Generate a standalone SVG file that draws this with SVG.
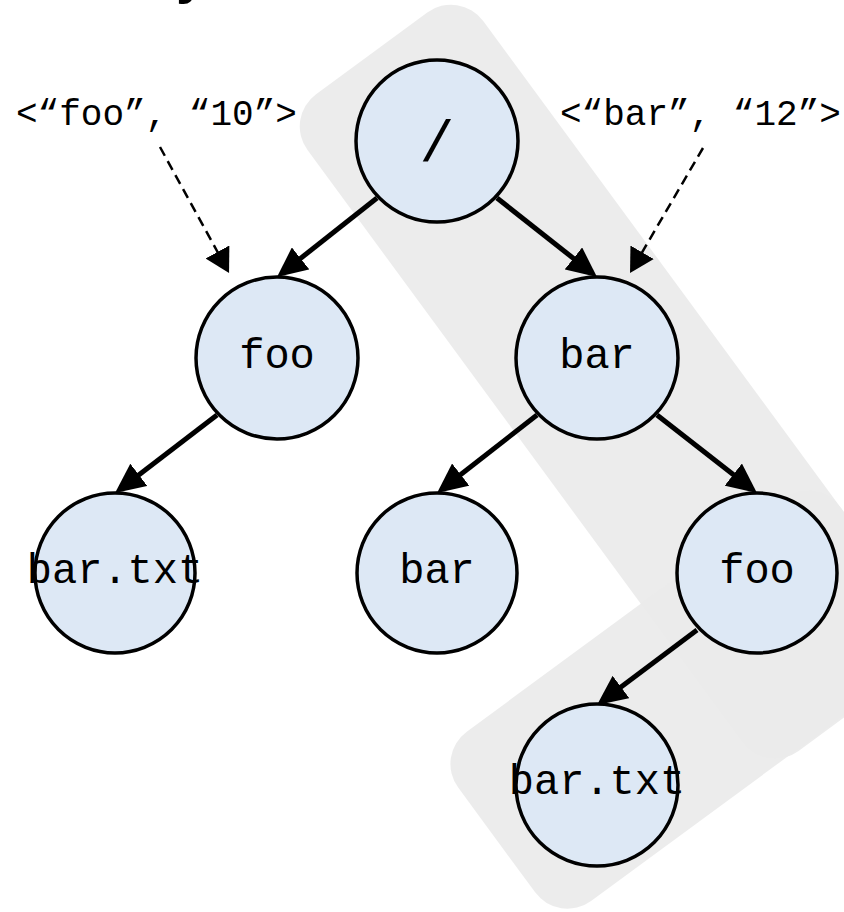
<svg xmlns="http://www.w3.org/2000/svg" width="844" height="912" viewBox="0 0 844 912">
  <style>
    .band { fill: #ebebeb; fill-opacity: 0.93; }
    .node circle { fill: #dde8f5; stroke: #000; stroke-width: 3.5; }
    .node text { font-family: "Liberation Mono", "Courier New", monospace; font-size: 42px; fill: #000; text-anchor: middle; }
    .node text.big { font-size: 58px; }
    .label { font-family: "Liberation Mono", "Courier New", monospace; font-size: 36px; fill: #000; }
    .edge { stroke: #000; stroke-width: 5; fill: none; marker-end: url(#head); }
    .ref { stroke: #000; stroke-width: 2.5; fill: none; stroke-dasharray: 10 6; marker-end: url(#head-small); }
  </style>
  <defs>
    <marker id="head" markerUnits="userSpaceOnUse" markerWidth="30" markerHeight="28" refX="10" refY="14" orient="auto" viewBox="0 0 30 28">
      <path d="M0,0 L30,14 L0,28 z" fill="#000"/>
    </marker>
    <marker id="head-small" markerUnits="userSpaceOnUse" markerWidth="24" markerHeight="27" refX="6" refY="13.5" orient="auto" viewBox="0 0 24 27">
      <path d="M0,0 L24,13.5 L0,27 z" fill="#000"/>
    </marker>
  </defs>

  <rect width="844" height="912" fill="#fff"/>

  <!-- clipped fragment of heading text above the figure -->
  <text x="176" y="-8" font-family="Liberation Sans, Arial, sans-serif" font-weight="bold" font-size="56">y</text>

  <!-- highlighted path bands -->
  <g id="bands" transform="rotate(-36.3)">
    <rect class="band" x="159" y="263" width="218" height="815" rx="40"/>
    <rect class="band" x="-97" y="866" width="474" height="210" rx="40"/>
  </g>

  <g id="nodes">
    <g id="root" class="node">
      <circle cx="437" cy="141" r="81"/>
      <text class="big" x="437" y="161">/</text>
    </g>
    <g id="foo" class="node">
      <circle cx="277" cy="358" r="81"/>
      <text x="277" y="368">foo</text>
    </g>
    <g id="bar" class="node">
      <circle cx="597" cy="358" r="81"/>
      <text x="597" y="368">bar</text>
    </g>
    <g id="foo-bar-txt" class="node">
      <circle cx="115" cy="573" r="80"/>
      <text x="115" y="583">bar.txt</text>
    </g>
    <g id="bar-bar" class="node">
      <circle cx="437" cy="573" r="80"/>
      <text x="437" y="583">bar</text>
    </g>
    <g id="bar-foo" class="node">
      <circle cx="757" cy="573" r="80"/>
      <text x="757" y="583">foo</text>
    </g>
    <g id="bar-foo-bar-txt" class="node">
      <circle cx="597" cy="785" r="81"/>
      <text x="597" y="794">bar.txt</text>
    </g>
  </g>

  <g id="labels">
    <text class="label" x="16" y="125">&lt;“foo”, “10”&gt;</text>
    <text class="label" x="560" y="125">&lt;“bar”, “12”&gt;</text>
  </g>

  <g id="connectors">
    <line class="edge" x1="377" y1="198" x2="292.7" y2="264.6"/>
    <line class="edge" x1="497" y1="198" x2="581.3" y2="264.6"/>
    <line class="edge" x1="217" y1="415" x2="130.9" y2="480.9"/>
    <line class="edge" x1="537" y1="415" x2="452.8" y2="480.7"/>
    <line class="edge" x1="657" y1="415" x2="741.2" y2="480.7"/>
    <line class="edge" x1="697" y1="630" x2="613" y2="693"/>
    <line class="ref" x1="160" y1="147" x2="220.4" y2="257.2"/>
    <line class="ref" x1="703" y1="148" x2="639.1" y2="257.5"/>
  </g>
</svg>
